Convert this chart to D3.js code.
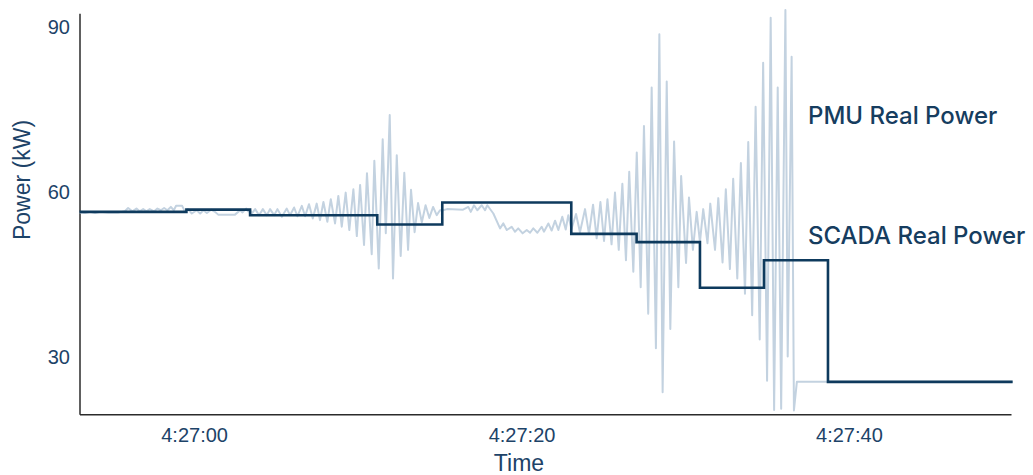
<!DOCTYPE html>
<html>
<head>
<meta charset="utf-8">
<script src="https://cdn.jsdelivr.net/npm/d3@7"></script>
<style>
    body { margin: 0; background: #fff; }
    #chart-area { width: 1033px; height: 475px; }
    .axis path { stroke: #2b2b2b; stroke-width: 1.5px; }
    .axis text { fill: #1d4368; font-family: "Liberation Sans", Arial, sans-serif; font-size: 20px; }
    .axis-title { fill: #1d4368; font-family: "Liberation Sans", Arial, sans-serif; font-size: 23px; }
    .series-label { fill: #163d5f; font-family: "Inter", sans-serif; font-size: 24px; font-weight: 500; }
</style>
</head>
<body>
<div id="chart-area"></div>
<script>

// seconds relative to 4:27:00
let pmuSeconds = [
    -6.99, -6.66, -6.35, -6.05, -5.74, -5.25, -4.64, -4.44, -4.23, -4.03,
    -3.77, -3.52, -3.32, -3.11, -2.91, -2.71, -2.44, -2.24, -2.03, -1.83,
    -1.63, -1.42, -1.24, -1.10, -0.73, -0.55, -0.38, -0.14, 0.16, 0.37,
    0.57, 0.78, 1.04, 1.28, 1.47, 2.50, 2.81, 2.96, 3.18, 3.30,
    3.42, 3.52, 3.73, 3.97, 4.20, 4.44, 4.64, 4.89, 5.09, 5.36,
    5.66, 5.86, 6.11, 6.31, 6.58, 6.78, 7.02, 7.25, 7.49, 7.69,
    7.90, 8.14, 8.35, 8.61, 8.81, 9.02, 9.26, 9.48, 9.73, 9.94,
    10.14, 10.38, 10.56, 10.85, 11.01, 11.28, 11.52, 11.71, 11.95, 12.15,
    12.38, 12.62, 12.84, 13.07, 13.25, 13.47, 13.68, 13.91, 14.14, 14.37,
    14.60, 14.82, 15.02, 15.21, 15.45, 16.43, 16.75, 16.90, 17.10, 17.30,
    17.57, 17.77, 17.91, 18.28, 18.69, 18.89, 19.10, 19.40, 19.60, 19.80,
    20.07, 20.32, 20.52, 20.72, 20.97, 21.23, 21.37, 21.64, 21.84, 22.05,
    22.25, 22.49, 22.70, 22.86, 23.05, 23.33, 23.57, 23.88, 24.12, 24.37,
    24.59, 24.82, 25.04, 25.25, 25.50, 25.71, 25.94, 26.16, 26.38, 26.58,
    26.83, 27.04, 27.28, 27.48, 27.74, 27.95, 28.21, 28.42, 28.62, 28.87,
    29.09, 29.32, 29.58, 29.75, 30.05, 30.23, 30.47, 30.70, 30.90, 31.10,
    31.36, 31.53, 31.82, 32.02, 32.28, 32.48, 32.73, 32.93, 33.18, 33.40,
    33.65, 33.85, 34.09, 34.30, 34.55, 34.76, 35.00, 35.22, 35.43, 35.65,
    35.86, 36.12, 36.26, 36.50, 36.64, 36.82, 50.00
];

let pmuKw = [
    56.3, 56.2, 56.4, 56.2, 56.4, 56.3, 56.3, 56.4, 56.5, 57.1,
    56.5, 57.0, 56.5, 56.9, 56.5, 56.9, 56.5, 57.0, 56.7, 57.1,
    56.7, 57.3, 56.7, 57.5, 57.5, 56.4, 56.9, 56.1, 56.7, 56.1,
    56.7, 56.2, 56.8, 56.4, 55.9, 55.9, 56.7, 56.3, 57.0, 56.5,
    56.8, 56.1, 56.9, 55.8, 56.9, 55.8, 56.9, 55.8, 56.9, 55.5,
    57.0, 55.8, 57.2, 55.6, 57.5, 55.6, 57.8, 55.2, 57.9, 54.9,
    58.2, 54.6, 58.7, 54.3, 59.3, 53.7, 59.9, 53.1, 60.5, 52.0,
    61.3, 50.4, 63.4, 48.7, 65.7, 46.1, 69.6, 52.5, 74.0, 44.3,
    66.7, 48.4, 63.5, 49.5, 60.4, 52.7, 58.0, 54.5, 57.6, 55.3,
    57.3, 55.8, 56.7, 56.7, 56.9, 56.8, 57.3, 56.4, 57.6, 56.7,
    57.6, 56.7, 57.6, 56.1, 53.4, 54.3, 53.1, 53.7, 52.8, 53.4,
    52.5, 53.1, 52.6, 53.4, 52.6, 53.7, 52.8, 54.3, 53.0, 54.8,
    53.1, 55.5, 53.2, 55.8, 53.3, 56.0, 52.7, 56.9, 52.4, 57.7,
    51.6, 58.2, 51.1, 58.7, 50.5, 59.9, 49.5, 61.5, 47.6, 63.7,
    45.5, 67.2, 42.7, 72.0, 37.9, 79.0, 31.6, 88.7, 23.6, 80.1,
    35.1, 69.2, 42.7, 62.9, 47.1, 59.0, 49.5, 56.4, 50.9, 56.9,
    50.7, 57.9, 49.5, 58.9, 47.2, 60.5, 46.0, 62.4, 44.3, 65.3,
    41.5, 69.1, 37.6, 75.5, 33.2, 83.5, 25.7, 91.7, 20.4, 79.0,
    20.6, 93.1, 30.1, 84.6, 20.3, 25.5, 25.5
];

// SCADA reports every ~4 s, drawn as steps
let scadaSeconds = [-7, -0.47, 3.42, 11.19, 15.16, 23.04, 27.03, 30.90, 34.81, 38.72, 50];
let scadaKw = [56.4, 56.8, 55.8, 54.1, 58.1, 52.4, 50.9, 42.6, 47.6, 25.5, 25.5];

let yTicks = [30, 60, 90];
let xTickLabels = ["4:27:00", "4:27:20", "4:27:40"];


class PowerChart {

    constructor(parentElement) {
        this.parentElement = parentElement;
        this.base = new Date(2020, 0, 1, 4, 27, 0);
        this.initVis();
    }

    toDate(s) {
        return new Date(this.base.getTime() + s * 1000);
    }

    initVis() {
        let vis = this;

        vis.svg = d3.select("#" + vis.parentElement).append("svg")
            .attr("width", 1033)
            .attr("height", 475);

        vis.x = d3.scaleTime()
            .domain([vis.toDate(-7), vis.toDate(49.9)])
            .range([79.5, 1011]);

        vis.y = d3.scaleLinear()
            .domain([19.6, 92.5])
            .range([414.3, 13.3]);

        let parseTick = d3.timeParse("%H:%M:%S");
        let tickDates = xTickLabels.map(function (t) {
            let p = parseTick(t);
            return new Date(2020, 0, 1, p.getHours(), p.getMinutes(), p.getSeconds());
        });

        vis.xAxis = d3.axisBottom(vis.x)
            .tickValues(tickDates)
            .tickFormat(d3.timeFormat("%-I:%M:%S"))
            .tickSize(0)
            .tickPadding(14);

        vis.yAxis = d3.axisLeft(vis.y)
            .tickValues(yTicks)
            .tickSize(0)
            .tickPadding(9.5);

        vis.svg.append("g")
            .attr("class", "x-axis axis")
            .attr("transform", "translate(0,414.3)")
            .call(vis.xAxis);

        vis.svg.append("g")
            .attr("class", "y-axis axis")
            .attr("transform", "translate(79.5,0)")
            .call(vis.yAxis);

        vis.svg.selectAll(".axis .domain").attr("fill", "none");

        vis.svg.append("text")
            .attr("class", "axis-title")
            .attr("text-anchor", "middle")
            .attr("transform", "translate(30,180) rotate(-90)")
            .text("Power (kW)");

        vis.svg.append("text")
            .attr("class", "axis-title")
            .attr("text-anchor", "middle")
            .attr("x", 519)
            .attr("y", 471)
            .text("Time");

        vis.updateVis();
    }

    updateVis() {
        let vis = this;

        let pmu = pmuSeconds.map((s, i) => ({t: vis.toDate(s), v: pmuKw[i]}));
        let scada = scadaSeconds.map((s, i) => ({t: vis.toDate(s), v: scadaKw[i]}));

        let line = d3.line()
            .x(d => vis.x(d.t))
            .y(d => vis.y(d.v));

        vis.svg.append("path")
            .datum(pmu)
            .attr("fill", "none")
            .attr("stroke", "#c3d2e0")
            .attr("stroke-width", 2)
            .attr("stroke-linejoin", "round")
            .attr("d", line);

        vis.svg.append("path")
            .datum(scada)
            .attr("fill", "none")
            .attr("stroke", "#0e3a5d")
            .attr("stroke-width", 2.6)
            .attr("d", line.curve(d3.curveStepAfter));

        vis.svg.append("text")
            .attr("class", "series-label")
            .attr("x", 808)
            .attr("y", 124)
            .text("PMU Real Power");

        vis.svg.append("text")
            .attr("class", "series-label")
            .attr("x", 808)
            .attr("y", 244)
            .text("SCADA Real Power");
    }
}

new PowerChart("chart-area");

</script>
</body>
</html>
